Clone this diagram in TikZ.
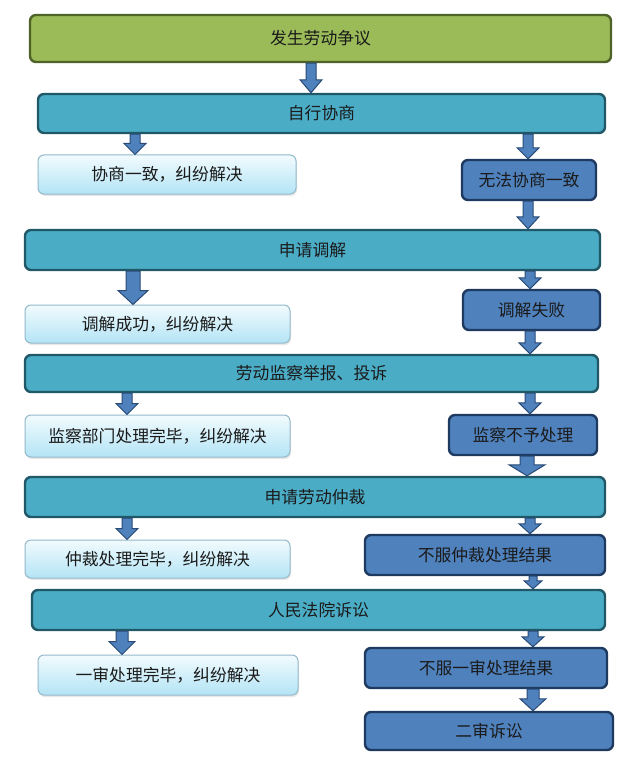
\documentclass[tikz,border=0pt]{standalone}
\usepackage{fontspec}
\setmainfont{Noto Sans CJK SC}
\usetikzlibrary{calc,shadows}
\definecolor{gfill}{HTML}{9BBB59}
\definecolor{gline}{HTML}{4F6228}
\definecolor{tfill}{HTML}{4BACC6}
\definecolor{tline}{HTML}{215867}
\definecolor{bfill}{HTML}{4F81BD}
\definecolor{bline}{HTML}{1F3A60}
\definecolor{ltop}{HTML}{F2FBFE}
\definecolor{lbot}{HTML}{B3E4F5}
\definecolor{lline}{HTML}{93B9CB}
\definecolor{afill}{HTML}{4F81BD}
\definecolor{aline}{HTML}{284A75}
\definecolor{txt}{HTML}{1A1A1A}
\tikzset{
  x=1pt, y=-1pt,
  base/.style={rounded corners=6pt, line width=2.4pt, inner sep=0pt,
    font=\fontsize{16.8}{19}\selectfont, text=txt},
  greenbox/.style={base, fill=gfill, draw=gline},
  tealbox/.style={base, fill=tfill, draw=tline},
  bluebox/.style={base, fill=bfill, draw=bline},
  lightbox/.style={base, line width=1pt, draw=lline, top color=ltop, bottom color=lbot,
    drop shadow={opacity=0.18, shadow xshift=1pt, shadow yshift=-2pt}},
  arrowsty/.style={draw=aline, fill=afill, line width=1pt, line join=miter},
}
% #1 style, #2 name, #3 x1, #4 x2, #5 y1, #6 y2, #7 text
\newcommand\bx[7]{\node[#1, minimum width={(#4-#3)*1pt}, minimum height={(#6-#5)*1pt}]
  (#2) at ({(#3+#4)/2},{(#5+#6)/2}) {#7};}
% #1 x, #2 from, #3 to, #4 half shaft, #5 half head, #6 head length
\newcommand\barrow[6]{\path let \p1=(#2.south), \p2=(#3.north) in [arrowsty]
  ({(#1-#4)*1pt},\y1) -- ({(#1+#4)*1pt},\y1) -- ({(#1+#4)*1pt},{\y2+#6pt})
  -- ({(#1+#5)*1pt},{\y2+#6pt}) -- ({#1*1pt},\y2) -- ({(#1-#5)*1pt},{\y2+#6pt})
  -- ({(#1-#4)*1pt},{\y2+#6pt}) -- cycle;}
\begin{document}
\begin{tikzpicture}
\useasboundingbox[fill=white] (0,0) rectangle (640,762);
\bx{greenbox}{s}{30}{611}{15}{62}{发生劳动争议}
\bx{tealbox}{t1}{38}{605}{94}{133}{自行协商}
\bx{lightbox}{l1}{38}{296}{155}{194}{协商一致，纠纷解决}
\bx{bluebox}{b1}{462}{596}{160}{200}{无法协商一致}
\bx{tealbox}{t2}{25}{600}{230}{270}{申请调解}
\bx{lightbox}{l2}{25}{290}{305}{343}{调解成功，纠纷解决}
\bx{bluebox}{b2}{463}{600}{290}{330}{调解失败}
\bx{tealbox}{t3}{25}{598}{355}{392}{劳动监察举报、投诉}
\bx{lightbox}{l3}{25}{290}{415}{457}{监察部门处理完毕，纠纷解决}
\bx{bluebox}{b3}{449}{597}{415}{455}{监察不予处理}
\bx{tealbox}{t4}{25}{605}{477}{517}{申请劳动仲裁}
\bx{lightbox}{l4}{25}{290}{540}{578}{仲裁处理完毕，纠纷解决}
\bx{bluebox}{b4}{365}{605}{535}{575}{不服仲裁处理结果}
\bx{tealbox}{t5}{32}{605}{590}{630}{人民法院诉讼}
\bx{lightbox}{l5}{38}{298}{655}{695}{一审处理完毕，纠纷解决}
\bx{bluebox}{b5}{365}{607}{648}{688}{不服一审处理结果}
\bx{bluebox}{b6}{365}{613}{712}{750}{二审诉讼}
\barrow{311}{s}{t1}{5}{11}{13}
\barrow{135}{t1}{l1}{5}{11}{11}
\barrow{528}{t1}{b1}{5}{11}{11}
\barrow{528}{b1}{t2}{5}{11}{12}
\barrow{133}{t2}{l2}{7}{15}{14}
\barrow{530}{t2}{b2}{5}{11}{11}
\barrow{530}{b2}{t3}{5}{11}{11}
\barrow{127}{t3}{l3}{5}{11}{11}
\barrow{530}{t3}{b3}{5}{11}{11}
\barrow{527}{b3}{t4}{7}{18}{11}
\barrow{127}{t4}{l4}{5}{11}{11}
\barrow{530}{t4}{b4}{5}{11}{10}
\barrow{533}{b4}{t5}{4}{9}{8}
\barrow{122}{t5}{l5}{6}{13}{13}
\barrow{533}{t5}{b5}{5}{11}{10}
\barrow{533}{b5}{b6}{6}{13}{12}
\end{tikzpicture}
\end{document}
